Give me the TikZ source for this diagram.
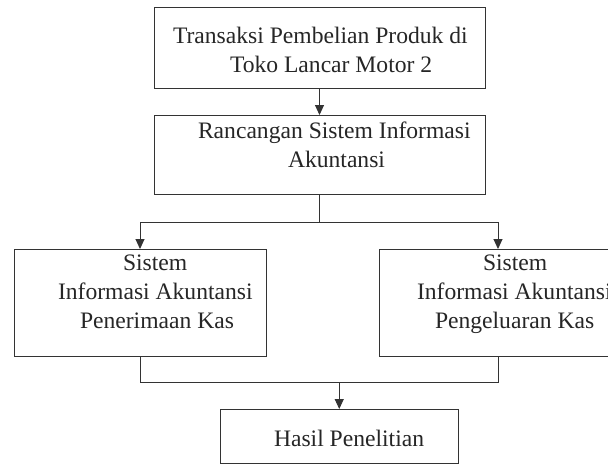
\documentclass[tikz,border=0pt]{standalone}
\usepackage{fontspec}
\setmainfont{Liberation Serif}
\usetikzlibrary{arrows.meta}
\begin{document}
\begin{tikzpicture}[x=1pt,y=-1pt,
  box/.style={draw=black!80,line width=1pt,inner sep=0pt,outer sep=0pt},
  txt/.style={anchor=base west,inner sep=0pt,outer sep=0pt,
    font=\fontsize{23.6}{29}\selectfont,text=black!85},
  link/.style={draw=black!80,line width=1pt},
  arr/.style={link,-{Triangle[length=10pt,width=9pt]}}]

% page area
\path[fill=white,use as bounding box] (0,0) rectangle (608,464);

% boxes
\node[box,minimum width=331pt,minimum height=81pt]  (b1) at (319.5,47.5) {};
\node[box,minimum width=331pt,minimum height=79pt]  (b2) at (319.5,154.5) {};
\node[box,minimum width=252pt,minimum height=107pt] (b3) at (140,302.5) {};
\node[box,minimum width=252pt,minimum height=107pt] (b4) at (505,302.5) {};
\node[box,minimum width=238.5pt,minimum height=54pt] (b5) at (339.25,436) {};

% labels
\node[txt] (t1a) at (173,43)  {Transaksi Pembelian Produk di};
\node[txt] (t1b) at (230,72)  {Toko Lancar Motor 2};
\node[txt] (t2a) at (198,138) {Rancangan Sistem Informasi};
\node[txt] (t2b) at (288,167) {Akuntansi};
\node[txt] (t3a) at (123,270) {Sistem};
\node[txt] (t3b) at (58,299)  {Informasi Akuntansi};
\node[txt] (t3c) at (80,328)  {Penerimaan Kas};
\node[txt] (t4a) at (483,270) {Sistem};
\node[txt] (t4b) at (417,299) {Informasi Akuntansi};
\node[txt] (t4c) at (435,328) {Pengeluaran Kas};
\node[txt] (t5)  at (274,446) {Hasil Penelitian};

% branch points
\coordinate (jl) at (140,222);
\coordinate (jr) at (498,222);
\coordinate (kl) at (140,382);
\coordinate (kr) at (498,382);

% connectors
\draw[arr] (b1.south) -- (b2.north);
\draw[arr] (b2.south) |- (jl) -- (b3.north);
\draw[arr] (b2.south |- jr) -- (jr) -- (jr |- b4.north);
\draw[link] (b3.south) -- (kl) -- (kr) -- (kr |- b4.south);
\draw[arr] (b5.north |- kl) -- (b5.north);
\end{tikzpicture}
\end{document}
